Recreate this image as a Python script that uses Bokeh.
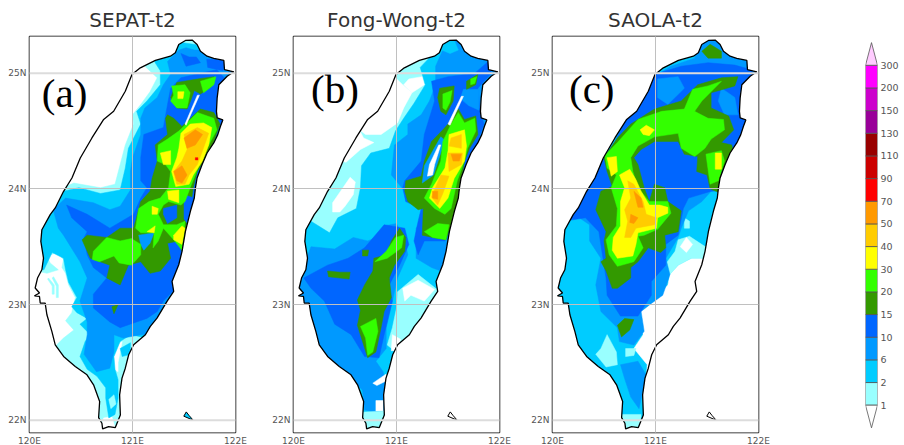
from bokeh.plotting import figure
from bokeh.layouts import row
from bokeh.models import FixedTicker, Range1d, LinearAxis, Span
from bokeh.core.properties import value
from bokeh.embed import file_html
from bokeh.resources import INLINE

TITLES = ["SEPAT-t2", "Fong-Wong-t2", "SAOLA-t2"]
TAGS = ["(a)", "(b)", "(c)"]
TAG_LON = [120.12, 120.17, 120.16]
TAG_LAT = [24.83, 24.865, 24.86]
LON_TICKS = [120, 121, 122]
LAT_TICKS = [22, 23, 24, 25]
THIN_LATS = [23, 24]
THICK_LATS = [22, 25]
BAR_LEVELS = [1, 2, 6, 10, 15, 20, 30, 40, 50, 70, 90, 110, 130, 150, 200, 300]
BAR_COLORS = ["#99FFFF", "#00CCFF", "#0099FF", "#0066FF", "#339900", "#33FF00", "#FFFF00", "#FFCC00",
              "#FF9900", "#FF0000", "#CC0000", "#990000", "#990099", "#CC00CC", "#FF00FF"]
OVER_COLOR = "#FFCCFF"
UNDER_COLOR = "#FFFFFF"

COAST = [(121.514,25.283),(121.579,25.286),(121.627,25.248),(121.66,25.19),(121.724,25.147),(121.789,25.127),
(121.887,25.11),(121.893,25.03),(121.984,25.012),(121.919,24.974),(121.838,24.90),(121.822,24.787),(121.815,24.67),
(121.822,24.613),(121.877,24.596),(121.854,24.541),(121.828,24.469),(121.789,24.397),(121.724,24.31),(121.676,24.21),
(121.627,24.094),(121.611,24.008),(121.60,23.921),(121.562,23.806),(121.514,23.633),(121.481,23.46),(121.449,23.344),
(121.384,23.20),(121.4,23.114),(121.335,23.027),(121.238,22.883),(121.173,22.811),(121.125,22.739),(121.011,22.652),
(120.963,22.566),(120.93,22.45),(120.898,22.364),(120.875,22.22),(120.882,22.046),(120.833,21.937),(120.768,21.945),
(120.71,21.925),(120.703,21.974),(120.671,22.023),(120.681,22.162),(120.622,22.306),(120.558,22.393),(120.444,22.465),
(120.331,22.551),(120.25,22.652),(120.217,22.768),(120.169,22.912),(120.152,23.013),(120.104,23.013),(120.097,23.07),
(120.049,23.076),(120.097,23.10),(120.055,23.143),(120.078,23.229),(120.12,23.301),(120.136,23.402),(120.11,23.546),
(120.12,23.647),(120.201,23.777),(120.25,23.835),(120.331,23.979),(120.412,24.094),(120.493,24.267),(120.606,24.44),
(120.72,24.60),(120.817,24.671),(120.93,24.844),(120.995,24.988),(121.076,25.046),(121.222,25.11),(121.368,25.147),
(121.416,25.176),(121.449,25.248)]
ISLAND = [(121.498,22.035),(121.522,22.072),(121.55,22.04),(121.59,22.0)]
ISLAND_LEVEL = [2, 0, 0]

SEPAT = [
(1,[(121.1,25.3),(121.5,25.35),(122.1,25.2),(122.1,24),(121.7,23),(121.3,22.6),(121.1,22.2),(121,21.85),(120.6,21.85),(120.55,22.3),(120.35,22.48),(120.14,22.58),(120.25,22.64),(120.33,22.71),(120.43,22.78),(120.35,22.86),(120.41,22.93),(120.445,23.06),(120.38,23.17),(120.35,23.27),(120.315,23.32),(120.33,23.39),(120.27,23.45),(120.17,23.42),(120.20,23.36),(120.28,23.30),(120.17,23.27),(120.07,23.29),(120.0,23.33),(120.0,23.9),(120.3,24.0),(120.43,24.05),(120.69,24.01),(120.83,24.04),(120.88,24.21),(120.93,24.38),(121.01,24.56),(121,24.64),(121.08,24.73),(121.17,24.84),(121.24,24.96),(121.12,25.06)]),
(0,[(120.86,22.66),(120.90,22.68),(120.86,22.5),(120.86,22.42),(120.82,22.44),(120.82,22.56)]),
(0,[(120.72,22.02),(120.80,22.03),(120.84,21.9),(120.68,21.9)]),
(1,[(120.185,23.23),(120.24,23.17),(120.24,23.09),(120.22,23.09),(120.22,23.16),(120.175,23.22)]),
(1,[(120.234,23.24),(120.28,23.17),(120.28,23.06),(120.26,23.06),(120.26,23.16),(120.22,23.23)]),
(2,[(121.2,25.3),(122.1,25.2),(122.1,24),(121.6,23),(121.2,22.7),(120.98,22.74),(120.88,22.68),(120.82,22.55),(120.83,22.44),(120.86,22.35),(120.86,22.19),(120.83,22.05),(120.77,22.02),(120.74,22.19),(120.74,22.28),(120.655,22.38),(120.56,22.44),(120.49,22.55),(120.54,22.68),(120.59,22.74),(120.49,22.83),(120.56,22.88),(120.46,22.93),(120.41,22.98),(120.46,23.06),(120.38,23.19),(120.35,23.30),(120.33,23.40),(120.22,23.45),(120.14,23.30),(120.0,23.32),(120.0,24.0),(120.33,23.98),(120.48,24.01),(120.69,23.96),(120.88,23.99),(120.93,24.18),(120.96,24.35),(121.08,24.56),(121.04,24.67),(121.14,24.76),(121.27,24.90),(121.27,25.02),(121.22,25.09)]),
(1,[(120.77,22.18),(120.82,22.22),(120.84,22.14),(120.79,22.1)]),
(2,[(120.88,22.62),(120.98,22.67),(120.98,22.57),(120.90,22.55)]),
(6,[(121.34,25.10),(121.45,25.2),(121.52,25.22),(121.6,25.2),(121.7,25.2),(122.0,25.1),(122.05,24.9),(121.9,24.3),(121.7,23.9),(121.6,23.4),(121.5,23.1),(121.35,22.9),(121.2,22.75),(121.08,22.74),(120.91,22.71),(120.82,22.74),(120.82,22.59),(120.78,22.45),(120.65,22.42),(120.53,22.57),(120.56,22.74),(120.56,22.85),(120.49,23.03),(120.56,23.23),(120.49,23.37),(120.33,23.60),(120.28,23.66),(120.23,23.82),(120.35,23.92),(120.62,23.88),(120.78,23.82),(120.88,23.85),(120.98,23.99),(120.98,24.15),(121,24.27),(121.08,24.47),(121.08,24.61),(121.12,24.70),(121.24,24.79),(121.30,24.90),(121.37,24.99)]),
(10,[(121.82,25.03),(121.66,25.0),(121.47,24.96),(121.37,24.87),(121.34,24.73),(121.30,24.53),(121.11,24.47),(121.08,24.27),(121.08,24.07),(121.14,24.01),(121.08,23.92),(121.01,23.78),(120.78,23.66),(120.56,23.78),(120.36,23.86),(120.41,23.75),(120.56,23.63),(120.53,23.58),(120.56,23.43),(120.62,23.32),(120.75,23.23),(120.62,23.09),(120.62,22.97),(120.78,22.85),(120.88,22.80),(121.04,22.85),(121.14,22.88),(121.24,22.94),(121.30,23.03),(121.42,23.14),(121.6,23.3),(121.7,23.9),(121.9,24.4),(121.95,24.9)]),
(10,[(121.47,25.17),(121.55,25.14),(121.62,25.14),(121.66,25.09),(121.52,25.06)]),
(10,[(121.72,25.12),(121.9,25.12),(121.88,25.02),(121.73,25.05)]),
(15,[(121.43,24.92),(121.63,24.95),(121.79,24.97),(121.76,24.88),(121.66,24.82),(121.6,24.85),(121.56,24.75),(121.53,24.69),(121.43,24.70),(121.37,24.79)]),
(15,[(121.34,24.64),(121.40,24.61),(121.48,24.54),(121.66,24.69),(121.79,24.66),(121.85,24.56),(121.79,24.41),(121.69,24.24),(121.63,24.15),(121.59,24.01),(121.56,23.83),(121.51,23.63),(121.48,23.46),(121.45,23.55),(121.34,23.53),(121.37,23.40),(121.27,23.29),(121.17,23.27),(121.08,23.37),(120.96,23.34),(120.88,23.17),(120.75,23.23),(120.78,23.34),(120.59,23.40),(120.51,23.56),(120.56,23.60),(120.75,23.58),(120.88,23.66),(121.01,23.66),(121.08,23.89),(121.17,23.98),(121.19,24.09),(121.24,24.24),(121.22,24.38),(121.34,24.47),(121.32,24.61)]),
(15,[(120.8,22.98),(120.86,23.0),(120.82,22.92)]),
(10,[(121.30,23.83),(121.43,23.86),(121.43,23.75),(121.34,23.70),(121.30,23.78)]),
(10,[(121.50,23.95),(121.60,23.92),(121.55,23.68),(121.50,23.74)]),
(6,[(121.06,23.60),(121.21,23.62),(121.17,23.53),(121.11,23.47),(121.08,23.52)]),
(20,[(121.38,24.89),(121.51,24.90),(121.56,24.83),(121.53,24.70),(121.43,24.70),(121.37,24.76),(121.40,24.81)]),
(20,[(121.66,24.93),(121.81,24.97),(121.79,24.90),(121.69,24.83)]),
(20,[(121.25,24.38),(121.34,24.43),(121.45,24.50),(121.53,24.57),(121.63,24.66),(121.79,24.61),(121.82,24.51),(121.74,24.38),(121.66,24.24),(121.61,24.12),(121.56,24.01),(121.51,23.89),(121.47,23.86),(121.35,23.89),(121.30,23.86),(121.25,23.78),(121.30,23.69),(121.43,23.69),(121.51,23.72),(121.48,23.47),(121.40,23.56),(121.30,23.66),(121.25,23.55),(121.20,23.49),(121.21,23.62),(121.08,23.62),(121.03,23.66),(121.06,23.83),(121.16,23.89),(121.27,23.92),(121.35,24.01),(121.37,24.15),(121.32,24.21),(121.24,24.24)]),
(20,[(120.62,23.46),(120.75,23.58),(120.88,23.55),(120.99,23.57),(121.08,23.52),(121.08,23.43),(120.99,23.34),(120.87,23.36),(120.82,23.42),(120.68,23.37),(120.61,23.39)]),
(30,[(121.47,24.48),(121.56,24.56),(121.69,24.57),(121.77,24.53),(121.74,24.38),(121.68,24.24),(121.59,24.12),(121.55,24.04),(121.42,24.02),(121.38,24.15),(121.43,24.27),(121.45,24.35)]),
(30,[(121.27,24.31),(121.37,24.33),(121.37,24.21),(121.30,24.21)]),
(30,[(121.34,23.98),(121.45,23.99),(121.45,23.88),(121.35,23.91)]),
(30,[(121.19,23.85),(121.25,23.83),(121.24,23.78),(121.19,23.78)]),
(30,[(121.40,23.60),(121.48,23.68),(121.51,23.66),(121.48,23.52),(121.40,23.56)]),
(30,[(121.14,23.63),(121.22,23.68),(121.21,23.62)]),
(30,[(121.44,24.84),(121.50,24.84),(121.49,24.78),(121.44,24.78)]),
(40,[(121.50,24.47),(121.63,24.53),(121.74,24.48),(121.68,24.33),(121.63,24.21),(121.55,24.12),(121.51,24.04),(121.43,24.04),(121.40,24.15),(121.48,24.24),(121.53,24.34)]),
(50,[(121.5,24.44),(121.61,24.51),(121.68,24.47),(121.61,24.38),(121.53,24.35)]),
(50,[(121.40,24.15),(121.48,24.2),(121.53,24.12),(121.48,24.05),(121.43,24.07)]),
(70,[(121.61,24.27),(121.635,24.27),(121.635,24.25),(121.61,24.25)]),
(0,[(121.65,24.81),(121.63,24.81),(121.51,24.56),(121.52,24.55)]),
]

FONGWONG = [
(1,[(120.9,25.2),(121.5,25.4),(122.1,25.2),(122.1,24),(121.6,22.9),(121.0,22.2),(121,21.85),(120.6,21.85),(120.5,22.3),(120.1,22.6),(120,23.3),(120,24),(120.4,24.2),(120.7,24.7)]),
(0,[(120.9,25.1),(120.99,24.96),(121.06,24.90),(121.15,24.83),(121.07,24.70),(121.01,24.57),(120.85,24.47),(120.70,24.47),(120.64,24.51),(120.68,24.44),(120.78,24.40),(120.65,24.34),(120.51,24.23),(120.4,24.25),(120.5,24.6),(120.8,25.0)]),
(0,[(121.12,24.95),(121.25,24.97),(121.27,24.90),(121.15,24.83),(121.07,24.90)]),
(0,[(120.38,23.88),(120.55,24.1),(120.6,24.06),(120.58,23.95),(120.5,23.85),(120.45,23.8),(120.38,23.8)]),
(2,[(121.23,25.05),(121.28,24.90),(121.17,24.74),(121.07,24.61),(120.99,24.50),(120.93,24.35),(120.75,24.31),(120.66,24.2),(120.65,24.01),(120.61,23.83),(120.43,23.75),(120.35,23.62),(120.17,23.72),(120.05,23.6),(120,23.3),(120,22.5),(120.4,22.3),(120.6,22.0),(120.6,21.85),(121,21.85),(121.0,22.2),(121.6,22.9),(122.1,24),(122.1,25.2),(121.5,25.4)]),
(1,[(121.01,23.11),(121.21,23.26),(121.38,23.14),(121.5,23.1),(121.24,22.80),(121.11,22.70),(120.98,22.60),(120.91,22.65),(120.96,22.80),(121.0,22.97)]),
(0,[(121.06,23.14),(121.21,23.21),(121.37,23.13),(121.27,23.03),(121.14,23.08),(121.08,23.03)]),
(0,[(120.95,22.60),(120.96,22.74),(121.04,22.70),(121.0,22.60)]),
(6,[(120.0,23.3),(120.10,23.34),(120.17,23.50),(120.40,23.48),(120.58,23.58),(120.72,23.55),(120.86,23.60),(120.88,23.68),(121.0,23.70),(121.08,23.55),(121.11,23.43),(121.01,23.23),(120.96,23.03),(120.90,22.80),(120.90,22.62),(120.80,22.51),(120.87,22.42),(120.90,22.32),(120.88,22.05),(120.69,22.09),(120.67,22.26),(120.56,22.36),(120.33,22.49),(120.17,22.74),(120.0,22.8)]),
(0,[(120.77,22.32),(120.9,22.40),(120.9,22.34),(120.81,22.30)]),
(0,[(120.8,22.17),(120.87,22.17),(120.87,22.08),(120.8,22.08)]),
(1,[(120.66,22.07),(120.88,22.08),(120.85,21.9),(120.66,21.9)]),
(6,[(121.38,25.06),(121.38,24.90),(121.32,24.76),(121.24,24.64),(121.11,24.56),(121.11,24.47),(120.98,24.38),(120.95,24.12),(121.08,23.98),(121.24,23.89),(121.27,23.78),(121.19,23.66),(121.19,23.40),(121.34,23.32),(121.43,23.29),(121.6,23.3),(121.8,24),(122.1,24.9),(122,25.2),(121.5,25.35)]),
(2,[(121.44,25.2),(121.52,25.17),(121.6,25.2),(121.55,25.35),(121.45,25.32)]),
(10,[(120.10,23.23),(120.33,23.34),(120.53,23.40),(120.69,23.49),(120.88,23.69),(121.08,23.66),(121.12,23.52),(121.03,23.34),(120.93,23.17),(120.96,23.03),(120.88,22.74),(120.83,22.54),(120.69,22.55),(120.56,22.74),(120.40,22.83),(120.30,23.03),(120.17,23.14)]),
(10,[(121.08,24.07),(121.24,24.24),(121.27,24.47),(121.37,24.76),(121.34,24.93),(121.50,24.97),(121.76,25.0),(121.89,25.10),(121.92,25.0),(121.79,24.87),(121.81,24.67),(121.85,24.56),(121.79,24.41),(121.69,24.24),(121.63,24.07),(121.59,23.83),(121.50,23.60),(121.47,23.55),(121.27,23.55),(121.21,23.43),(121.17,23.55),(121.21,23.72),(121.24,23.83),(121.09,23.89),(121.06,24.01)]),
(6,[(121.65,24.86),(121.8,24.86),(121.8,24.68),(121.7,24.72),(121.62,24.78)]),
(15,[(121.03,23.66),(121.09,23.58),(121.08,23.46),(120.98,23.34),(120.93,23.23),(120.95,23.06),(120.88,22.94),(120.85,22.80),(120.80,22.59),(120.72,22.54),(120.67,22.68),(120.62,22.82),(120.65,22.95),(120.62,23.04),(120.69,23.17),(120.77,23.29),(120.78,23.40),(120.90,23.43),(120.95,23.55)]),
(15,[(120.33,23.29),(120.45,23.28),(120.55,23.28),(120.54,23.22),(120.34,23.24)]),
(15,[(120.67,23.47),(120.73,23.47),(120.72,23.42),(120.67,23.42)]),
(15,[(121.09,24.07),(121.24,24.11),(121.27,24.24),(121.34,24.41),(121.45,24.51),(121.50,24.56),(121.60,24.69),(121.66,24.6),(121.77,24.63),(121.79,24.47),(121.71,24.35),(121.66,24.24),(121.63,24.07),(121.59,23.83),(121.53,23.69),(121.48,23.56),(121.35,23.58),(121.25,23.60),(121.26,23.83),(121.21,23.82),(121.11,23.89),(121.08,23.98)]),
(15,[(121.42,24.87),(121.56,24.89),(121.55,24.76),(121.48,24.64),(121.43,24.67),(121.40,24.79)]),
(15,[(121.68,24.93),(121.79,24.99),(121.77,24.90),(121.68,24.86)]),
(6,[(121.43,24.45),(121.47,24.42),(121.36,24.12),(121.25,24.05),(121.27,24.2)]),
(20,[(121.53,24.56),(121.60,24.66),(121.66,24.57),(121.76,24.61),(121.77,24.5),(121.69,24.35),(121.66,24.24),(121.59,24.07),(121.53,23.83),(121.47,23.78),(121.37,23.83),(121.27,23.92),(121.34,24.04),(121.43,24.24),(121.45,24.41)]),
(20,[(121.27,23.63),(121.40,23.70),(121.51,23.69),(121.48,23.56),(121.35,23.58)]),
(20,[(120.65,22.81),(120.8,22.88),(120.82,22.77),(120.77,22.59),(120.72,22.56),(120.70,22.71)]),
(20,[(120.99,23.58),(121.07,23.6),(121.05,23.49),(120.91,23.40),(120.79,23.37),(120.90,23.46)]),
(20,[(121.45,24.82),(121.54,24.85),(121.52,24.75),(121.48,24.68),(121.45,24.7)]),
(20,[(121.72,24.95),(121.78,24.97),(121.76,24.91),(121.72,24.9)]),
(30,[(121.51,24.47),(121.66,24.51),(121.68,24.37),(121.66,24.24),(121.56,24.09),(121.50,23.92),(121.42,23.83),(121.32,23.92),(121.35,24.01),(121.47,24.18),(121.50,24.33)]),
(40,[(121.53,24.44),(121.63,24.47),(121.63,24.35),(121.51,24.37)]),
(40,[(121.50,24.31),(121.64,24.31),(121.63,24.21),(121.51,24.15)]),
(40,[(121.43,24.12),(121.51,24.11),(121.45,23.96),(121.40,23.86),(121.34,23.93)]),
(50,[(121.53,24.30),(121.63,24.30),(121.61,24.24),(121.55,24.24)]),
(50,[(121.35,23.98),(121.40,23.98),(121.40,23.91),(121.35,23.92)]),
(0,[(121.65,24.80),(121.63,24.80),(121.50,24.56),(121.52,24.55)]),
(0,[(121.43,24.38),(121.41,24.38),(121.32,24.21),(121.30,24.11),(121.35,24.12),(121.37,24.21)]),
]

SAOLA = [
(2,[(120.9,25.2),(121.5,25.4),(122.1,25.2),(122.1,24),(121.6,22.9),(121.0,22.2),(121,21.85),(120.6,21.85),(120.5,22.3),(120.1,22.6),(120,23.3),(120,24),(120.4,24.2),(120.7,24.7)]),
(0,[(121.51,23.40),(121.35,23.40),(121.22,23.34),(121.14,23.26),(121.12,23.17),(120.97,23.03),(120.84,22.94),(120.84,22.85),(120.88,22.74),(120.79,22.62),(120.92,22.48),(120.91,22.36),(121.1,22.3),(121.6,22.9),(121.7,23.4)]),
(1,[(121.09,23.34),(121.19,23.46),(121.22,23.56),(121.33,23.59),(121.50,23.49),(121.48,23.40),(121.35,23.40),(121.22,23.34),(121.14,23.26)]),
(0,[(121.24,23.5),(121.3,23.58),(121.36,23.52),(121.3,23.45)]),
(1,[(121.28,23.75),(121.33,23.72),(121.33,23.66),(121.28,23.66)]),
(1,[(120.47,22.62),(120.53,22.74),(120.62,22.59),(120.63,22.48),(120.52,22.46),(120.42,22.57)]),
(1,[(120.71,22.62),(120.81,22.62),(120.79,22.56),(120.71,22.55)]),
(1,[(120.66,22.05),(120.86,22.05),(120.85,21.9),(120.66,21.9)]),
(6,[(120.21,23.78),(120.36,23.69),(120.36,23.55),(120.47,23.40),(120.42,23.17),(120.47,22.94),(120.63,22.80),(120.65,22.68),(120.79,22.65),(120.89,22.77),(120.86,22.94),(120.96,23.01),(121.07,23.08),(121.14,23.26),(121.10,23.40),(121.22,23.58),(121.25,23.66),(121.32,23.81),(121.45,23.89),(121.54,23.98),(121.7,24.0),(122.1,24.5),(122.1,25.03),(121.9,25.1),(121.71,25.15),(121.62,25.3),(121.5,25.3),(121.41,25.19),(121.38,25.13),(121.15,25.06),(120.95,24.95),(120.6,24.4),(120.3,24),(120.1,23.8)]),
(6,[(120.66,22.48),(120.83,22.51),(120.91,22.39),(120.84,22.10),(120.76,22.2),(120.70,22.36)]),
(10,[(120.18,23.73),(120.32,23.75),(120.45,23.63),(120.49,23.40),(120.52,23.23),(120.53,23.08),(120.66,22.90),(120.83,22.90),(120.96,23.08),(120.96,23.20),(121.10,23.34),(121.10,23.52),(121.22,23.60),(121.27,23.83),(121.32,23.92),(121.54,23.98),(122,24.0),(122.1,24.9),(121.93,25.03),(121.77,25.07),(121.51,25.09),(121.25,25.06),(120.99,24.99),(120.9,24.9),(120.6,24.4),(120.3,24),(120.1,23.8)]),
(6,[(121.64,24.87),(121.77,24.79),(121.80,24.64),(121.67,24.64),(121.61,24.76)]),
(6,[(121.02,24.95),(121.22,24.97),(121.28,24.87),(121.12,24.73),(121.02,24.79)]),
(6,[(121.55,24.38),(121.63,24.38),(121.63,24.35),(121.55,24.35)]),
(15,[(121.45,25.19),(121.53,25.25),(121.64,25.19),(121.64,25.13),(121.51,25.13)]),
(15,[(120.63,22.82),(120.70,22.88),(120.79,22.87),(120.75,22.78),(120.67,22.72)]),
(15,[(120.63,24.44),(120.76,24.56),(120.99,24.69),(121.25,24.76),(121.41,24.90),(121.64,24.96),(121.80,24.97),(121.77,24.89),(121.54,24.83),(121.54,24.70),(121.71,24.63),(121.76,24.51),(121.64,24.40),(121.74,24.38),(121.76,24.30),(121.64,24.15),(121.61,23.97),(121.53,24.0),(121.5,24.12),(121.40,24.15),(121.41,24.28),(121.28,24.30),(121.22,24.41),(120.99,24.41),(120.86,24.34),(120.79,24.27),(120.83,24.21),(120.89,24.01),(120.94,23.89),(120.99,24.04),(121.09,24.01),(121.12,23.89),(121.25,23.81),(121.22,23.63),(121.09,23.60),(121.10,23.49),(121.05,23.45),(120.93,23.49),(120.83,23.37),(120.76,23.32),(120.76,23.23),(120.63,23.14),(120.58,23.14),(120.52,23.29),(120.47,23.37),(120.52,23.40),(120.50,23.55),(120.52,23.63),(120.42,23.82),(120.47,23.98),(120.58,24.02),(120.53,24.15),(120.50,24.27)]),
(20,[(120.51,24.29),(120.63,24.40),(120.83,24.60),(121.06,24.67),(121.28,24.69),(121.36,24.86),(121.51,24.89),(121.64,24.93),(121.45,24.76),(121.38,24.67),(121.51,24.61),(121.66,24.60),(121.67,24.51),(121.54,24.43),(121.48,24.35),(121.38,24.28),(121.25,24.35),(121.22,24.48),(120.99,24.45),(120.83,24.37),(120.76,24.27),(120.78,24.15),(120.83,24.01),(120.94,23.89),(121.12,23.89),(121.15,23.79),(121.02,23.65),(120.89,23.60),(120.83,23.59),(120.88,23.49),(120.79,23.37),(120.63,23.33),(120.55,23.43),(120.52,23.56),(120.62,23.68),(120.63,23.83),(120.57,24.01),(120.62,24.12),(120.53,24.18)]),
(20,[(121.49,24.30),(121.64,24.33),(121.67,24.24),(121.61,24.07),(121.53,24.04)]),
(30,[(120.85,24.51),(120.91,24.55),(120.99,24.51),(120.94,24.46),(120.88,24.47)]),
(30,[(120.53,24.27),(120.62,24.28),(120.63,24.15),(120.57,24.11)]),
(30,[(120.65,24.12),(120.75,24.17),(120.81,24.08),(120.86,23.98),(120.94,23.86),(121.04,23.86),(121.12,23.84),(121.12,23.79),(121.02,23.75),(121.01,23.66),(120.83,23.62),(120.81,23.52),(120.78,23.42),(120.63,23.40),(120.58,23.47),(120.59,23.58),(120.66,23.68),(120.66,23.89),(120.70,24.01)]),
(30,[(121.58,24.31),(121.64,24.31),(121.64,24.17),(121.58,24.17)]),
(40,[(120.73,24.07),(120.79,24.04),(120.88,23.89),(120.91,23.78),(121.01,23.75),(120.99,23.69),(120.81,23.66),(120.76,23.58),(120.70,23.58),(120.73,23.72),(120.70,23.82),(120.76,23.92)]),
(50,[(120.79,23.98),(120.86,23.92),(120.88,23.84),(120.83,23.84)]),
(50,[(120.76,23.78),(120.83,23.75),(120.79,23.70),(120.75,23.71)]),
]

COLORS = dict(zip(BAR_LEVELS[:-1], BAR_COLORS))
COLORS[0] = "#FFFFFF"

LON_MIN, LON_MAX, LAT_MIN, LAT_MAX = 120, 122, 21.894, 25.317


def inside(pts):
    # shapes are painted inside the frame only; what lies outside the coast is covered by the mask
    lon = [min(max(pt[0], LON_MIN + 0.015), LON_MAX - 0.015) for pt in pts]
    lat = [min(max(pt[1], LAT_MIN + 0.015), LAT_MAX - 0.015) for pt in pts]
    return lon, lat


def panel(shapes, title, tag, tag_lon, tag_lat, island_level, left, right):
    p = figure(frame_width=206, frame_height=396, output_backend="svg", toolbar_location=None,
               x_range=Range1d(LON_MIN, LON_MAX), y_range=Range1d(LAT_MIN, LAT_MAX),
               min_border_left=left, min_border_right=right, min_border_top=28, min_border_bottom=14)
    p.title.text = title
    p.title.align = "center"
    p.title.text_font = "DejaVu Sans"
    p.title.text_font_size = "20px"
    p.title.text_font_style = "normal"
    p.title.text_color = "#333333"
    p.outline_line_color = "#000000"
    p.outline_line_width = 1.5
    p.background_fill_color = "#FFFFFF"
    p.xaxis.ticker = FixedTicker(ticks=LON_TICKS)
    p.yaxis.ticker = FixedTicker(ticks=LAT_TICKS)
    p.xaxis.major_label_overrides = {v: f"{v}E" for v in LON_TICKS}
    p.yaxis.major_label_overrides = {v: f"{v}N" for v in LAT_TICKS}
    for ax in (p.xaxis, p.yaxis):
        ax.axis_line_color = None
        ax.major_tick_line_color = None
        ax.minor_tick_line_color = None
        ax.major_tick_in = 0
        ax.major_tick_out = 0
        ax.minor_tick_in = 0
        ax.minor_tick_out = 0
        ax.major_label_text_font = "DejaVu Sans"
        ax.major_label_text_font_size = "9px"
        ax.major_label_text_color = "#555555"
        ax.major_label_standoff = 3
    p.grid.grid_line_color = "#c0c0c0"
    p.grid.grid_line_width = 1
    p.grid.level = "overlay"
    p.ygrid.ticker = FixedTicker(ticks=THIN_LATS)
    for lat in THICK_LATS:
        p.add_layout(Span(location=lat, dimension="width", line_color="#dcdcdc", line_width=2, level="overlay"))
    clipped = [inside(s[1]) for s in shapes]
    xs = [c[0] for c in clipped]
    ys = [c[1] for c in clipped]
    cols = [COLORS[s[0]] for s in shapes]
    p.patches(xs, ys, fill_color=cols, line_color=cols, line_width=0.5)
    cx = [pt[0] for pt in COAST]
    cy = [pt[1] for pt in COAST]
    ox = [LON_MIN - 0.2, LON_MAX + 0.2, LON_MAX + 0.2, LON_MIN - 0.2]
    oy = [LAT_MIN - 0.2, LAT_MIN - 0.2, LAT_MAX + 0.2, LAT_MAX + 0.2]
    p.multi_polygons(xs=[[[ox, cx]]], ys=[[[oy, cy]]], fill_color="#FFFFFF", line_color=None)
    p.patch(cx + cx[:1], cy + cy[:1], fill_color=None, line_color="#000000", line_width=1.3)
    ix = [pt[0] for pt in ISLAND]
    iy = [pt[1] for pt in ISLAND]
    p.patch(ix, iy, fill_color=COLORS[island_level], line_color="#000000", line_width=1)
    p.text([tag_lon], [tag_lat], text=[tag], text_font=value("Liberation Serif"), text_font_size="41px",
           text_color="#000000", text_align="left", text_baseline="alphabetic")
    return p


pa = panel(SEPAT, TITLES[0], TAGS[0], TAG_LON[0], TAG_LAT[0], ISLAND_LEVEL[0], 17, 34)
pa.margin = (0, 0, 0, 5)
pb = panel(FONGWONG, TITLES[1], TAGS[1], TAG_LON[1], TAG_LAT[1], ISLAND_LEVEL[1], 23, 29)
pc = panel(SAOLA, TITLES[2], TAGS[2], TAG_LON[2], TAG_LAT[2], ISLAND_LEVEL[2], 20, 30)

n = len(BAR_COLORS)
cb = figure(frame_width=12, frame_height=396, output_backend="svg", toolbar_location=None,
            x_range=Range1d(0, 1), y_range=Range1d(-1.205, n + 1.27),
            min_border_left=77, min_border_right=17, min_border_top=28, min_border_bottom=14)
cb.outline_line_color = None
cb.grid.visible = False
cb.xaxis.visible = False
cb.yaxis.visible = False
cb.quad(left=0, right=1, bottom=list(range(n)), top=list(range(1, n + 1)), fill_color=BAR_COLORS,
        line_color="#555555", line_width=0.8)
cb.patch([0, 1, 0.5], [n, n, n + 1], fill_color=OVER_COLOR, line_color="#555555", line_width=0.8)
cb.patch([0, 1, 0.5], [0, 0, -1], fill_color=UNDER_COLOR, line_color="#555555", line_width=0.8)
ax = LinearAxis(ticker=FixedTicker(ticks=list(range(n + 1))),
                major_label_overrides={i: str(v) for i, v in enumerate(BAR_LEVELS)})
ax.axis_line_color = None
ax.major_tick_line_color = None
ax.minor_tick_line_color = None
ax.major_tick_in = 0
ax.major_tick_out = 0
ax.minor_tick_in = 0
ax.minor_tick_out = 0
ax.major_label_text_font = "DejaVu Sans"
ax.major_label_text_font_size = "9.5px"
ax.major_label_text_color = "#555555"
ax.major_label_standoff = 3
cb.add_layout(ax, "right")

page = row(pa, pb, pc, cb, spacing=0)
open("out.html", "w").write(file_html(page, INLINE))
